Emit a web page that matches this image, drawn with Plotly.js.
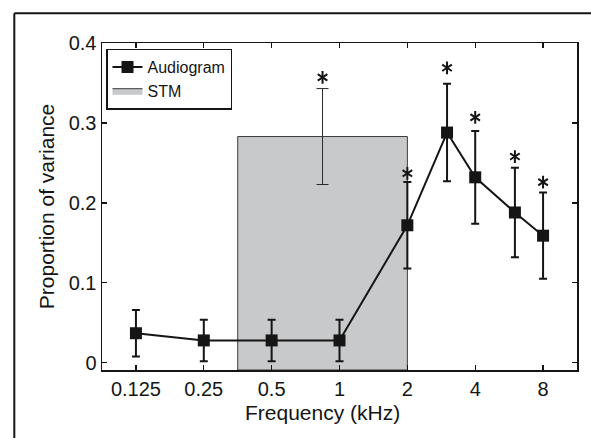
<!DOCTYPE html>
<html>
<head>
<meta charset="utf-8">
<script src="https://cdn.plot.ly/plotly-3.0.1.min.js"></script>
<style>html,body{margin:0;padding:0;background:#fff;}#chart{width:591px;height:438px;}</style>
</head>
<body>
<div id="chart"></div>
<script>
// Audiogram data (kHz, proportion of variance, error)
const freq = [0.125, 0.25, 0.5, 1, 2, 3, 4, 6, 8];
const audio = [0.037, 0.028, 0.028, 0.028, 0.172, 0.288, 0.232, 0.188, 0.159];
const audioErr = [0.029, 0.026, 0.026, 0.026, 0.054, 0.061, 0.058, 0.056, 0.054];

// STM band
const stmLow = 0.3536;
const stmHigh = 2;
const stmValue = 0.283;
const stmErr = 0.06;

// significance asterisks
const starX = [0.841, 2, 3, 4, 6, 8];
const starY = [0.357, 0.237, 0.369, 0.307, 0.258, 0.226];

// ticks
const xTickVals = [0.125, 0.25, 0.5, 1, 2, 4, 8];
const xTickText = ['0.125', '0.25', '0.5', '1', '2', '4', '8'];
const yTickVals = [0, 0.1, 0.2, 0.3, 0.4];
const yTickText = ['0', '0.1', '0.2', '0.3', '0.4'];

const yMin = -0.009, yMax = 0.4;
const FONT = 'Liberation Sans, Arial, Helvetica, sans-serif';
const INK = '#151515';

const stmCenter = Math.sqrt(stmLow * stmHigh);

const traces = [
  {
    x: [stmLow, stmHigh, stmHigh, stmLow, stmLow],
    y: [yMin, yMin, stmValue, stmValue, yMin],
    type: 'scatter', mode: 'lines', fill: 'toself',
    fillcolor: '#c8c9cb',
    line: {color: '#3a3a3a', width: 1},
    name: 'STM', legendrank: 2, hoverinfo: 'skip'
  },
  {
    x: [stmCenter], y: [stmValue],
    type: 'scatter', mode: 'markers',
    marker: {size: 1, opacity: 0},
    error_y: {type: 'data', array: [stmErr], visible: true, color: '#2a2a2a', thickness: 1, width: 6},
    showlegend: false, hoverinfo: 'skip'
  },
  {
    x: freq, y: audio,
    type: 'scatter', mode: 'lines+markers',
    line: {color: INK, width: 2},
    marker: {symbol: 'square', size: 12, color: INK},
    error_y: {type: 'data', array: audioErr, visible: true, color: INK, thickness: 2, width: 4},
    name: 'Audiogram', legendrank: 1
  },
  {
    x: starX, y: starY, type: 'scatter', mode: 'markers',
    marker: {symbol: 'y-up-open', size: 8, color: INK, line: {color: INK, width: 2}},
    showlegend: false, hoverinfo: 'skip'
  },
  {
    x: starX, y: starY, type: 'scatter', mode: 'markers',
    marker: {symbol: 'y-down-open', size: 8, color: INK, line: {color: INK, width: 2}},
    showlegend: false, hoverinfo: 'skip'
  }
];

const L = 102, R = 14, T = 43, B = 68, W = 591, H = 438;
const pw = W - L - R, ph = H - T - B;
const px2x = p => (p - L) / pw;
const py2y = p => (H - B - p) / ph;

const layout = {
  width: W, height: H,
  margin: {l: L, r: R, t: T, b: B, pad: 0},
  paper_bgcolor: '#fff', plot_bgcolor: '#fff',
  font: {family: FONT, color: INK, size: 20},
  showlegend: true,
  legend: {
    x: px2x(106), y: py2y(48.5), xanchor: 'left', yanchor: 'top',
    bgcolor: '#fff', bordercolor: INK, borderwidth: 1.5,
    font: {family: FONT, size: 16, color: INK},
    tracegroupgap: 0, itemwidth: 30
  },
  xaxis: {
    type: 'log',
    range: [Math.log10(0.125 / Math.SQRT2), Math.log10(8 * Math.SQRT2)],
    tickmode: 'array', tickvals: xTickVals, ticktext: xTickText,
    ticks: 'inside', ticklen: 5, tickwidth: 1.2, tickcolor: INK,
    showline: true, linecolor: INK, linewidth: 1.5, mirror: 'ticks',
    showgrid: false, zeroline: false,
    tickfont: {family: FONT, size: 20, color: INK}
  },
  yaxis: {
    range: [yMin, yMax],
    tickmode: 'array', tickvals: yTickVals, ticktext: yTickText,
    ticks: 'inside', ticklen: 5, tickwidth: 1.2, tickcolor: INK,
    showline: true, linecolor: INK, linewidth: 1.5, mirror: 'ticks',
    showgrid: false, zeroline: false,
    tickfont: {family: FONT, size: 20, color: INK},
    title: {text: 'Proportion of variance', font: {family: FONT, size: 21, color: INK}, standoff: 8}
  },
  annotations: [
    {
      text: 'Frequency (kHz)', xref: 'paper', yref: 'paper',
      x: px2x(322), y: py2y(412), xanchor: 'center', yanchor: 'middle',
      showarrow: false, font: {family: FONT, size: 21, color: INK}
    }
  ],
  shapes: [
    {type: 'line', xref: 'paper', yref: 'paper', x0: px2x(14.3), x1: px2x(14.3), y0: py2y(13.3), y1: py2y(445), line: {color: INK, width: 2}},
    {type: 'line', xref: 'paper', yref: 'paper', x0: px2x(14.3), x1: px2x(600), y0: py2y(13.3), y1: py2y(13.3), line: {color: INK, width: 2}}
  ]
};

Plotly.newPlot('chart', traces, layout, {displayModeBar: false, staticPlot: true});
</script>
</body>
</html>
